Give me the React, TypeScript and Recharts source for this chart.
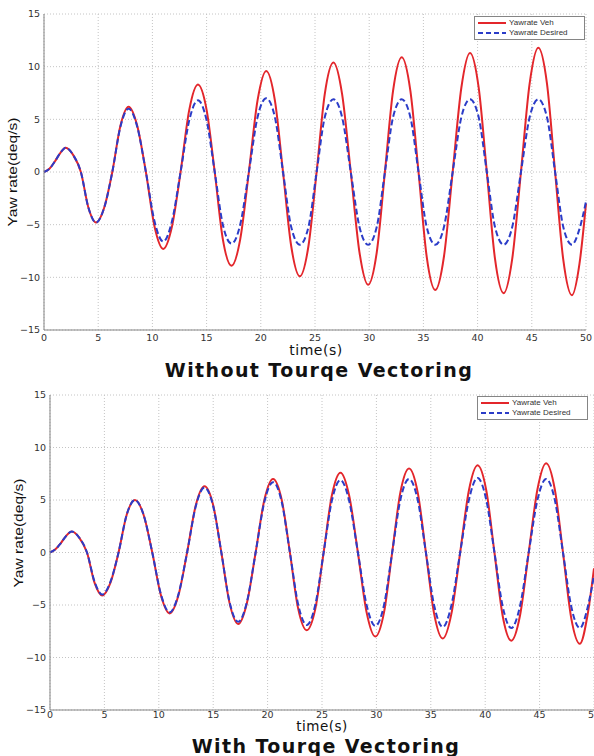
import { CartesianGrid, Line, LineChart, XAxis, YAxis } from "recharts";

// time (s), shared by both panels
const TIME = [
  0, 0.5, 1.0, 1.5, 2.0,
  2.7, 3.4, 4.1, 4.8,
  5.55, 6.3, 7.05, 7.8,
  8.6, 9.4, 10.2, 11.0,
  11.8, 12.6, 13.4, 14.2,
  15.0, 15.75, 16.5, 17.3,
  18.1, 18.9, 19.7, 20.5,
  21.3, 22.05, 22.8, 23.6,
  24.4, 25.15, 25.9, 26.7,
  27.5, 28.3, 29.1, 29.9,
  30.7, 31.45, 32.2, 33.0,
  33.8, 34.55, 35.3, 36.1,
  36.9, 37.7, 38.5, 39.3,
  40.1, 40.85, 41.6, 42.4,
  43.2, 44.0, 44.8, 45.6,
  46.4, 47.15, 47.9, 48.7,
  49.4, 50.0,
];

// without torque vectoring
const VEH_OFF = [
  0, 0.3, 1.0, 1.8, 2.3,
  1.6, 0, -3.4, -4.8,
  -3.4, 0, 4.4, 6.2,
  4.4, 0, -5.2, -7.3,
  -5.2, 0, 5.9, 8.3,
  5.9, 0, -6.4, -8.9,
  -6.4, 0, 6.8, 9.6,
  6.8, 0, -7.0, -9.9,
  -7.0, 0, 7.4, 10.4,
  7.4, 0, -7.6, -10.7,
  -7.6, 0, 7.7, 10.9,
  7.7, 0, -8.0, -11.2,
  -8.0, 0, 8.0, 11.3,
  8.0, 0, -8.2, -11.5,
  -8.2, 0, 8.4, 11.8,
  8.4, 0, -8.3, -11.7,
  -8.7, -3.0,
];
const DES_OFF = [
  0, 0.3, 1.0, 1.8, 2.3,
  1.6, 0, -3.4, -4.8,
  -3.4, 0, 4.3, 6.0,
  4.3, 0, -4.7, -6.6,
  -4.7, 0, 4.9, 6.8,
  4.9, 0, -5.0, -6.8,
  -5.0, 0, 5.2, 7.0,
  5.2, 0, -5.2, -6.9,
  -5.2, 0, 5.2, 6.9,
  5.2, 0, -5.2, -6.9,
  -5.2, 0, 5.2, 6.9,
  5.2, 0, -5.2, -6.9,
  -5.2, 0, 5.2, 6.9,
  5.2, 0, -5.2, -6.9,
  -5.2, 0, 5.2, 6.9,
  5.2, 0, -5.2, -6.9,
  -5.4, -2.8,
];

// with torque vectoring
const VEH_ON = [
  0, 0.3, 0.9, 1.6, 2.0,
  1.4, 0, -2.9, -4.1,
  -2.9, 0, 3.6, 5.0,
  3.6, 0, -4.1, -5.8,
  -4.1, 0, 4.5, 6.3,
  4.5, 0, -4.8, -6.8,
  -4.8, 0, 5.0, 7.0,
  5.0, 0, -5.3, -7.4,
  -5.3, 0, 5.4, 7.6,
  5.4, 0, -5.7, -8.0,
  -5.7, 0, 5.7, 8.0,
  5.7, 0, -5.8, -8.2,
  -5.8, 0, 5.9, 8.3,
  5.9, 0, -6.0, -8.4,
  -6.0, 0, 6.0, 8.5,
  6.0, 0, -6.2, -8.7,
  -6.0, -1.5,
];
const DES_ON = [
  0, 0.3, 0.9, 1.6, 2.0,
  1.4, 0, -2.8, -4.0,
  -2.8, 0, 3.6, 5.0,
  3.6, 0, -4.0, -5.7,
  -4.0, 0, 4.4, 6.2,
  4.4, 0, -4.7, -6.6,
  -4.7, 0, 4.8, 6.7,
  4.8, 0, -4.9, -6.9,
  -4.9, 0, 4.9, 6.9,
  4.9, 0, -5.0, -7.0,
  -5.0, 0, 5.0, 7.0,
  5.0, 0, -5.0, -7.1,
  -5.0, 0, 5.0, 7.1,
  5.0, 0, -5.1, -7.2,
  -5.1, 0, 5.0, 7.0,
  5.0, 0, -5.1, -7.2,
  -5.3, -2.2,
];

const X_TICKS = [0, 5, 10, 15, 20, 25, 30, 35, 40, 45, 50];
const Y_TICKS = [-15, -10, -5, 0, 5, 10, 15];
const SERIES_NAMES = ["Yawrate Veh", "Yawrate Desired"];

const RED = "#e3262b";
const BLUE = "#2b3cc8";
const AXIS = "#858585";
const TICK = { fill: "#333", fontSize: 9.5, fontFamily: "DejaVu Sans" };

const fmt = (v: number) => (v < 0 ? `\u2212${-v}` : `${v}`);

function YawLegend({ x, y }: { x: number; y: number }) {
  const row = (color: string, dash: string | undefined, label: string) => (
    <div style={{ display: "flex", alignItems: "center", height: 10 }}>
      <svg width={28} height={6}>
        <line x1={0} x2={28} y1={3} y2={3} stroke={color} strokeWidth={2} strokeDasharray={dash} />
      </svg>
      <span style={{ marginLeft: 3 }}>{label}</span>
    </div>
  );
  return (
    <div
      style={{
        position: "absolute",
        left: x,
        top: y,
        background: "#fff",
        border: `1px solid ${AXIS}`,
        padding: "1px 3px",
        fontFamily: "Liberation Sans, Arial, sans-serif",
        fontSize: 8,
        lineHeight: "10px",
        color: "#333",
        width: 111,
        boxSizing: "border-box",
        whiteSpace: "nowrap",
      }}
    >
      {row(RED, undefined, SERIES_NAMES[0])}
      {row(BLUE, "5 3", SERIES_NAMES[1])}
    </div>
  );
}

type PanelProps = {
  veh: number[];
  des: number[];
  top: number;
  left: number;
  right: number;
  marginTop: number;
  xTickGap: number;
};

function Panel({ veh, des, top, left, right, marginTop, xTickGap }: PanelProps) {
  const data = TIME.map((t, i) => ({ t, veh: veh[i], des: des[i] }));
  return (
    <div style={{ position: "absolute", left: 0, top }}>
      <LineChart
        width={594}
        height={346}
        data={data}
        margin={{ top: marginTop, right, bottom: 0, left }}
      >
        <CartesianGrid stroke="#c4c4c4" strokeDasharray="1 2" />
        <XAxis
          dataKey="t"
          type="number"
          domain={[0, 50]}
          ticks={X_TICKS}
          interval={0}
          height={16}
          tickLine={false}
          tickSize={0}
          tickMargin={xTickGap}
          stroke={AXIS}
          tick={TICK}
        />
        <XAxis
          xAxisId="top"
          orientation="top"
          dataKey="t"
          type="number"
          domain={[0, 50]}
          ticks={X_TICKS}
          height={0}
          tick={false}
          tickLine={false}
          stroke={AXIS}
        />
        <YAxis
          type="number"
          domain={[-15, 15]}
          ticks={Y_TICKS}
          interval={0}
          width={30}
          tickLine={false}
          tickSize={0}
          tickMargin={4}
          tickFormatter={fmt}
          stroke={AXIS}
          tick={TICK}
        />
        <YAxis
          yAxisId="right"
          orientation="right"
          type="number"
          domain={[-15, 15]}
          width={0}
          tick={false}
          tickLine={false}
          stroke={AXIS}
        />
        <Line
          dataKey="veh"
          name={SERIES_NAMES[0]}
          type="monotone"
          stroke={RED}
          strokeWidth={2}
          dot={false}
          isAnimationActive={false}
        />
        <Line
          dataKey="des"
          name={SERIES_NAMES[1]}
          type="monotone"
          stroke={BLUE}
          strokeWidth={2}
          strokeDasharray="6 3"
          dot={false}
          isAnimationActive={false}
        />
      </LineChart>
    </div>
  );
}

const abs = (x: number, y: number): React.CSSProperties => ({
  position: "absolute",
  left: x,
  top: y,
  transform: "translate(-50%, -50%)",
  whiteSpace: "nowrap",
  lineHeight: 1,
  color: "#111",
});

const yLabel = (x: number, y: number): React.CSSProperties => ({
  ...abs(x, y),
  transform: "translate(-50%, -50%) rotate(-90deg) scale(1.3, 1)",
  fontFamily: "Liberation Sans, Arial, sans-serif",
  fontSize: 12,
});

const xLabel: React.CSSProperties = { fontSize: 14, letterSpacing: 0.5 };
const title: React.CSSProperties = { fontSize: 19, fontWeight: 700, letterSpacing: 1.4 };

export default function App() {
  return (
    <div
      style={{
        position: "absolute",
        left: 0,
        top: 0,
        width: 594,
        height: 756,
        background: "#fff",
        overflow: "hidden",
        fontFamily: "DejaVu Sans, sans-serif",
      }}
    >
      <Panel veh={VEH_OFF} des={DES_OFF} top={0} left={14} right={8} marginTop={14} xTickGap={4} />
      <Panel veh={VEH_ON} des={DES_ON} top={380} left={20} right={0} marginTop={15} xTickGap={1} />

      <YawLegend x={474} y={16} />
      <YawLegend x={477} y={396} />

      <div style={yLabel(13, 172)}>Yaw rate(deq/s)</div>
      <div style={yLabel(19, 533)}>Yaw rate(deq/s)</div>

      <div style={{ ...abs(316, 350), ...xLabel }}>time(s)</div>
      <div style={{ ...abs(319, 370), ...title }}>Without Tourqe Vectoring</div>

      <div style={{ ...abs(322, 727), ...xLabel, fontSize: 13.5 }}>time(s)</div>
      <div style={{ ...abs(326, 746), ...title }}>With Tourqe Vectoring</div>
    </div>
  );
}
